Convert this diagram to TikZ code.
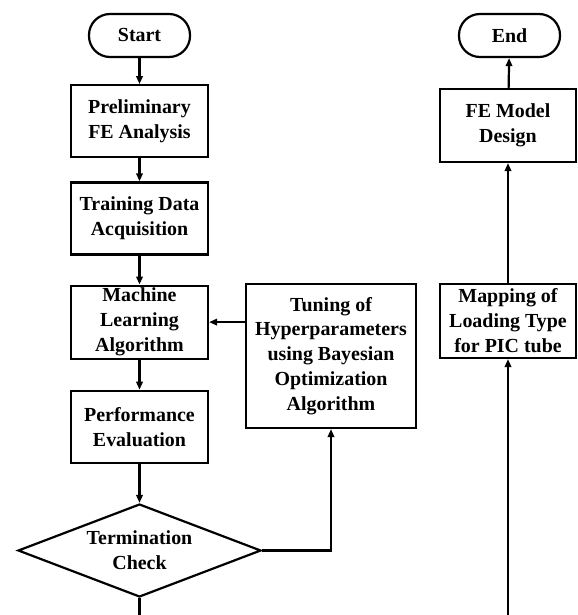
\documentclass[tikz,border=0pt]{standalone}
\usepackage{fontspec}
\setmainfont{Liberation Serif}
\usetikzlibrary{arrows.meta,positioning,shapes.geometric}

\begin{document}
\begin{tikzpicture}[x=1bp,y=1bp,line width=2.2bp,
  font=\fontsize{20}{25}\selectfont\bfseries,
  term/.style={draw,rounded corners=21bp,minimum width=101bp,minimum height=43bp},
  box/.style={draw,align=center,minimum width=137bp,minimum height=72bp,inner sep=2bp},
  flow/.style={-{Triangle[length=8bp,width=6.5bp]}}]
\useasboundingbox (0,0) rectangle (578,-615);
% left column
\node[term] (start) at (139.5,-35.5) {Start};
\node[box,below=26bp of start] (prelim) {Preliminary\\FE Analysis};
\node[box,below=23bp of prelim] (train) {Training Data\\Acquisition};
\node[box,below=29bp of train,minimum height=73bp] (ml) {Machine\\Learning\\Algorithm};
\node[box,below=30bp of ml] (perf) {Performance\\Evaluation};
\node[draw,diamond,aspect=2.5,align=center,minimum width=243bp,minimum height=93bp,inner sep=0pt,below=39bp of perf] (check) {Termination\\Check};
\node[box,minimum width=170bp,minimum height=144bp] (tune) at (331,-356) {Tuning of\\Hyperparameters\\using Bayesian\\Optimization\\Algorithm};
% right column
\node[term] (end) at (509.5,-35.5) {End};
\node[box,minimum width=136bp,minimum height=73bp] (fe) at (508,-125.5) {FE Model\\Design};
\node[box,minimum width=136bp,minimum height=74bp] (map) at (508,-321) {Mapping of\\Loading Type\\for PIC tube};
\coordinate (botL) at (139.5,-615);
\coordinate (botR) at (508,-615);

\draw[flow] (start) -- (prelim);
\draw[flow] (prelim) -- (train);
\draw[flow] (train) -- (ml);
\draw[flow] (ml) -- (perf);
\draw[flow] (perf) -- (check);
\draw (check.south) -- (botL);
\draw[flow] (check.east) -| (tune.south);
\draw[flow] (tune.west |- ml.east) -- (ml.east);
\draw[flow] (botR) -- (map.south);
\draw[flow] (map) -- (fe);
\draw[flow] (fe) -- (end);
\end{tikzpicture}
\end{document}
